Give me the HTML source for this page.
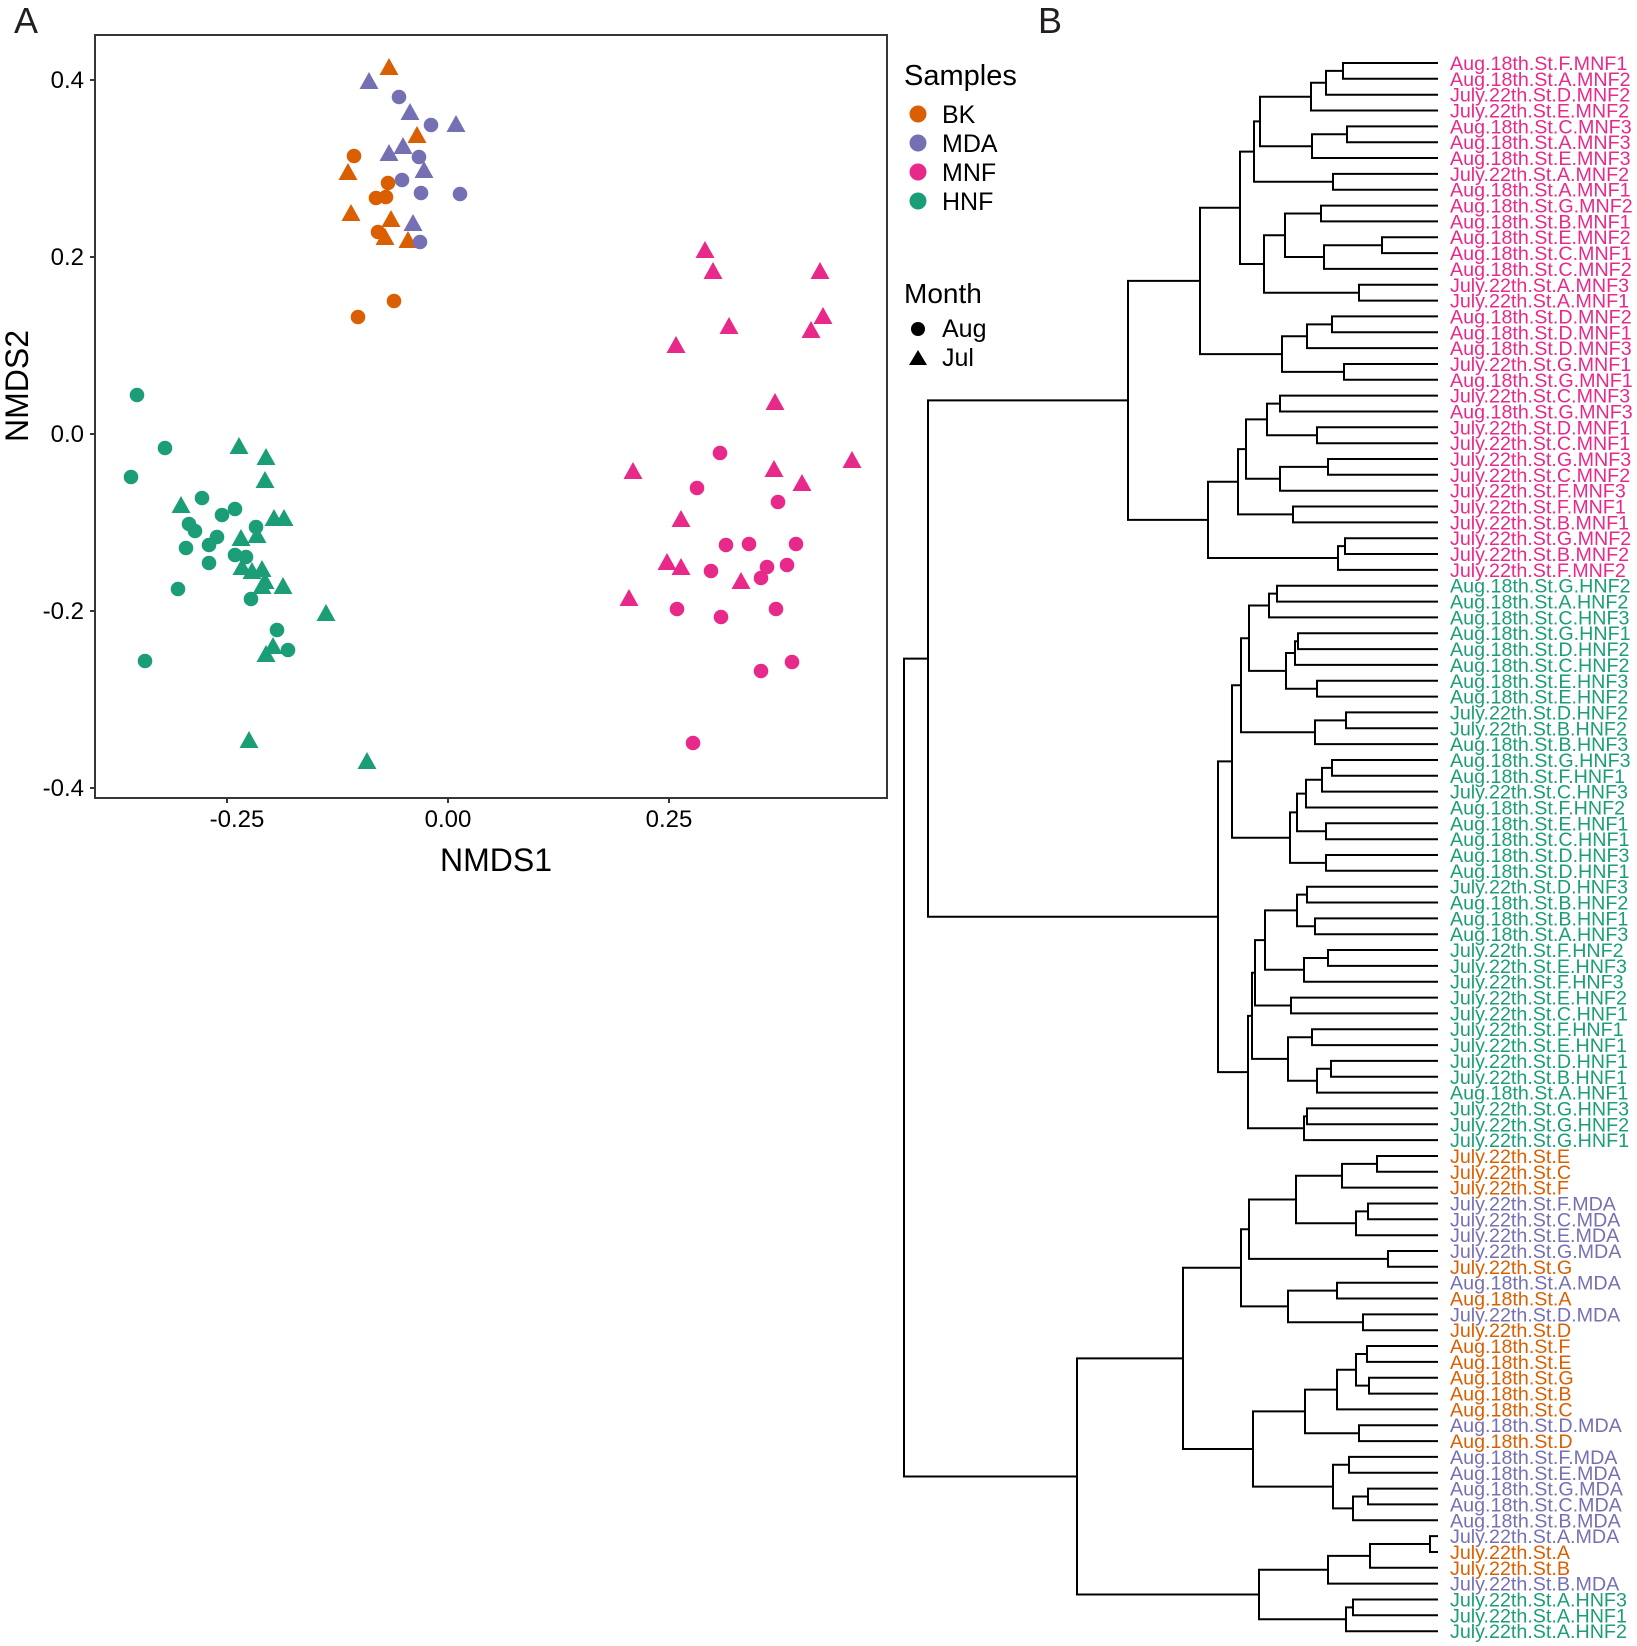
<!DOCTYPE html>
<html><head><meta charset="utf-8"><style>
html,body{margin:0;padding:0;background:#fff;}
svg{display:block;font-family:"Liberation Sans",Arial,sans-serif;}
</style></head><body>
<svg id="s" width="1637" height="1646" viewBox="0 0 1637 1646" xmlns="http://www.w3.org/2000/svg">
<text x="14" y="33" font-size="36" fill="#231f20">A</text>
<text x="1038" y="33" font-size="36" fill="#231f20">B</text>
<rect x="95" y="35" width="792" height="763" fill="none" stroke="#3a3532" stroke-width="2"/>
<g stroke="#3a3532" stroke-width="2">
<line x1="90" y1="80" x2="95" y2="80"/><line x1="90" y1="257" x2="95" y2="257"/><line x1="90" y1="434" x2="95" y2="434"/><line x1="90" y1="611" x2="95" y2="611"/><line x1="90" y1="788" x2="95" y2="788"/>
<line x1="227" y1="798" x2="227" y2="803"/><line x1="448" y1="798" x2="448" y2="803"/><line x1="669" y1="798" x2="669" y2="803"/>
</g>
<g font-size="24" fill="#000" text-anchor="end">
<text x="84" y="88">0.4</text><text x="84" y="265">0.2</text><text x="84" y="442">0.0</text><text x="84" y="619">-0.2</text><text x="84" y="796">-0.4</text>
</g>
<g font-size="24" fill="#000" text-anchor="middle">
<text x="237" y="827">-0.25</text><text x="448" y="827">0.00</text><text x="669" y="827">0.25</text>
</g>
<text x="496" y="871" font-size="32" text-anchor="middle">NMDS1</text>
<text transform="translate(28,386) rotate(-90)" font-size="32" text-anchor="middle">NMDS2</text>
<text x="904" y="85" font-size="29">Samples</text>
<circle cx="918" cy="114" r="8.5" fill="#d95f02"/><text x="942" y="123" font-size="25">BK</text>
<circle cx="918" cy="143" r="8.5" fill="#7570b3"/><text x="942" y="152" font-size="25">MDA</text>
<circle cx="918" cy="172" r="8.5" fill="#e7298a"/><text x="942" y="181" font-size="25">MNF</text>
<circle cx="918" cy="201" r="8.5" fill="#1b9e77"/><text x="942" y="210" font-size="25">HNF</text>
<text x="904" y="303" font-size="28">Month</text>
<circle cx="918" cy="329" r="7" fill="#000"/><text x="942" y="337" font-size="25">Aug</text>
<path d="M918,350 L927,365 L909,365 Z" fill="#000"/><text x="942" y="366" font-size="25">Jul</text>
<g id="pts"></g>
<g id="tree" stroke="#000" stroke-width="2" fill="none" stroke-linecap="square"></g>
<g id="labs" font-size="19.7"></g>
</svg>
<script>
var NS="http://www.w3.org/2000/svg";
function el(t,a,p){var e=document.createElementNS(NS,t);for(var k in a)e.setAttribute(k,a[k]);p.appendChild(e);return e;}
var C={B:"#d95f02",M:"#7570b3",P:"#e7298a",G:"#1b9e77"};
var pts=document.getElementById("pts");
function circ(c,l){l.forEach(function(p){el("circle",{cx:p[0],cy:p[1],r:7.3,fill:C[c]},pts);});}
function tri(c,l){l.forEach(function(p){var x=p[0],y=p[1];el("path",{d:"M"+x+","+(y-10)+" L"+(x+9.5)+","+(y+7)+" L"+(x-9.5)+","+(y+7)+" Z",fill:C[c]},pts);});}
tri("B",[[389,68],[417,136],[348,173],[351,214],[391,220],[385,238],[408,241]]);
circ("B",[[354,156],[388,183],[376,198],[386,197],[378,232],[394,301],[358,317]]);
tri("M",[[369,82],[410,113],[456,125],[389,154],[403,147],[424,171],[413,224]]);
circ("M",[[399,97],[431,125],[419,157],[402,180],[421,193],[460,194],[420,242]]);
circ("G",[[137,395],[165,448],[131,477],[202,498],[235,509],[222,515],[189,524],[195,531],[217,537],[209,545],[256,527],[186,548],[235,555],[246,557],[209,563],[178,589],[251,599],[277,630],[288,650],[145,661]]);
tri("G",[[239,447],[266,458],[265,481],[181,506],[274,519],[284,519],[241,539],[257,536],[242,568],[252,572],[262,570],[265,582],[262,587],[283,587],[326,614],[273,647],[266,655],[249,741],[367,762]]);
tri("P",[[705,251],[713,272],[820,272],[823,317],[811,331],[729,327],[676,346],[775,403],[633,472],[774,470],[802,484],[852,461],[681,520],[667,563],[681,568],[741,582],[629,599]]);
circ("P",[[720,453],[697,488],[778,502],[726,545],[749,544],[796,544],[711,571],[767,567],[787,565],[761,578],[677,609],[721,617],[776,609],[761,671],[792,662],[693,743]]);

var L=[["Aug.18th.St.F.MNF1","P"],["Aug.18th.St.A.MNF2","P"],["July.22th.St.D.MNF2","P"],["July.22th.St.E.MNF2","P"],["Aug.18th.St.C.MNF3","P"],["Aug.18th.St.A.MNF3","P"],["Aug.18th.St.E.MNF3","P"],["July.22th.St.A.MNF2","P"],["Aug.18th.St.A.MNF1","P"],["Aug.18th.St.G.MNF2","P"],
["Aug.18th.St.B.MNF1","P"],["Aug.18th.St.E.MNF2","P"],["Aug.18th.St.C.MNF1","P"],["Aug.18th.St.C.MNF2","P"],["July.22th.St.A.MNF3","P"],["July.22th.St.A.MNF1","P"],["Aug.18th.St.D.MNF2","P"],["Aug.18th.St.D.MNF1","P"],["Aug.18th.St.D.MNF3","P"],["July.22th.St.G.MNF1","P"],
["Aug.18th.St.G.MNF1","P"],["July.22th.St.C.MNF3","P"],["Aug.18th.St.G.MNF3","P"],["July.22th.St.D.MNF1","P"],["July.22th.St.C.MNF1","P"],["July.22th.St.G.MNF3","P"],["July.22th.St.C.MNF2","P"],["July.22th.St.F.MNF3","P"],["July.22th.St.F.MNF1","P"],["July.22th.St.B.MNF1","P"],
["July.22th.St.G.MNF2","P"],["July.22th.St.B.MNF2","P"],["July.22th.St.F.MNF2","P"],
["Aug.18th.St.G.HNF2","G"],["Aug.18th.St.A.HNF2","G"],["Aug.18th.St.C.HNF3","G"],["Aug.18th.St.G.HNF1","G"],["Aug.18th.St.D.HNF2","G"],["Aug.18th.St.C.HNF2","G"],["Aug.18th.St.E.HNF3","G"],["Aug.18th.St.E.HNF2","G"],["July.22th.St.D.HNF2","G"],["July.22th.St.B.HNF2","G"],
["Aug.18th.St.B.HNF3","G"],["Aug.18th.St.G.HNF3","G"],["Aug.18th.St.F.HNF1","G"],["July.22th.St.C.HNF3","G"],["Aug.18th.St.F.HNF2","G"],["Aug.18th.St.E.HNF1","G"],["Aug.18th.St.C.HNF1","G"],["Aug.18th.St.D.HNF3","G"],["Aug.18th.St.D.HNF1","G"],["July.22th.St.D.HNF3","G"],
["Aug.18th.St.B.HNF2","G"],["Aug.18th.St.B.HNF1","G"],["Aug.18th.St.A.HNF3","G"],["July.22th.St.F.HNF2","G"],["July.22th.St.E.HNF3","G"],["July.22th.St.F.HNF3","G"],["July.22th.St.E.HNF2","G"],["July.22th.St.C.HNF1","G"],["July.22th.St.F.HNF1","G"],["July.22th.St.E.HNF1","G"],
["July.22th.St.D.HNF1","G"],["July.22th.St.B.HNF1","G"],["Aug.18th.St.A.HNF1","G"],["July.22th.St.G.HNF3","G"],["July.22th.St.G.HNF2","G"],["July.22th.St.G.HNF1","G"],
["July.22th.St.E","B"],["July.22th.St.C","B"],["July.22th.St.F","B"],["July.22th.St.F.MDA","M"],["July.22th.St.C.MDA","M"],["July.22th.St.E.MDA","M"],["July.22th.St.G.MDA","M"],["July.22th.St.G","B"],["Aug.18th.St.A.MDA","M"],["Aug.18th.St.A","B"],
["July.22th.St.D.MDA","M"],["July.22th.St.D","B"],["Aug.18th.St.F","B"],["Aug.18th.St.E","B"],["Aug.18th.St.G","B"],["Aug.18th.St.B","B"],["Aug.18th.St.C","B"],["Aug.18th.St.D.MDA","M"],["Aug.18th.St.D","B"],["Aug.18th.St.F.MDA","M"],
["Aug.18th.St.E.MDA","M"],["Aug.18th.St.G.MDA","M"],["Aug.18th.St.C.MDA","M"],["Aug.18th.St.B.MDA","M"],["July.22th.St.A.MDA","M"],["July.22th.St.A","B"],["July.22th.St.B","B"],["July.22th.St.B.MDA","M"],["July.22th.St.A.HNF3","G"],["July.22th.St.A.HNF1","G"],["July.22th.St.A.HNF2","G"]];
function LY(i){return 63+i*15.84;}
var labs=document.getElementById("labs");
L.forEach(function(l,i){var t=el("text",{x:1450,y:(LY(i)+7).toFixed(1),fill:C[l[1]]},labs);t.textContent=l[0];});

var a=[1311,[1326,[1343,0,1],2],3],b=[1312,[1347,4,5],6],c=[1260,a,b],d=[1254,c,[1333,7,8]],
e=[1264,[1285,[1321,9,10],[1324,[1382,11,12],13]],[1359,14,15]],f=[1240,d,e],
g=[1282,[1307,[1332,16,17],18],[1344,19,20]],h=[1200,f,g],
i1=[1267,[1280,21,22],[1317,23,24]],j=[1246,i1,[1280,[1328,25,26],27]],k=[1238,j,[1293,28,29]],
l=[1208,k,[1338,[1345,30,31],32]],MNF=[1128,h,l];
var m=[1249,[1269,[1277,33,34],35],[1286,[1295,[1298,36,37],38],[1317,39,40]]],
n=[1241,m,[1315,[1346,41,42],43]],
o=[1290,[1297,[1306,[1322,[1332,44,45],46],47],[1326,48,49]],[1326,50,51]],
p=[1232,n,o],
q=[1265,[1297,[1307,52,53],[1315,54,55]],[1304,[1328,56,57],58]],
r=[1255,q,[1291,59,60]],
s=[1252,r,[1288,[1312,61,62],[1317,[1331,63,64],65]]],
t=[1248,s,[1304,[1307,66,67],68]],HNF=[1218,p,t];
var u=[1249,[1296,[1342,[1377,69,70],71],[1356,[1368,72,73],74]],[1388,75,76]],
v=[1241,u,[1288,[1337,77,78],[1363,79,80]]],
w=[1253,[1305,[1337,[1356,[1367,81,82],[1369,83,84]],85],[1359,86,87]],[1333,[1349,88,89],[1353,[1368,90,91],92]]],
x1=[1183,v,w],y1=[1259,[1328,[1370,[1430,93,94],95],96],[1346,[1353,97,98],99]],
Z=[1077,x1,y1],root=[904,[928,MNF,HNF],Z];
var tree=document.getElementById("tree"),D="";
function walk(nd){
 if(typeof nd==="number")return [1437,LY(nd)];
 var A=walk(nd[1]),B=walk(nd[2]),x=nd[0];
 D+="M"+A[0]+","+A[1].toFixed(1)+"H"+x+"V"+B[1].toFixed(1)+"H"+B[0]+" ";
 return [x,(A[1]+B[1])/2];
}
walk(root);
el("path",{d:D},tree);
</script>
</body></html>
